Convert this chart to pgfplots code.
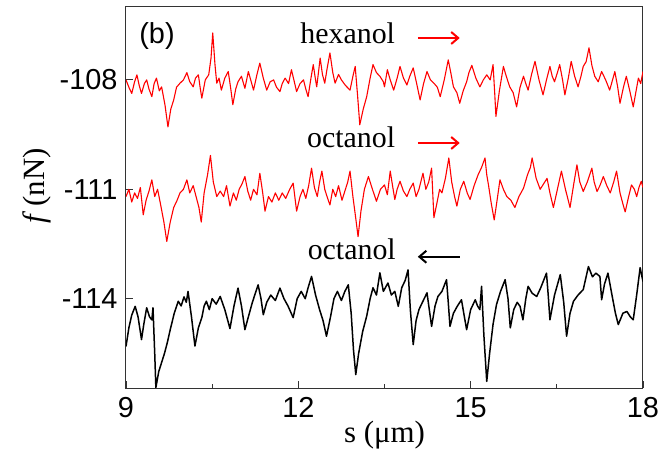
\documentclass[border=0pt]{standalone}
\usepackage{fontspec}
\setmainfont{Liberation Serif}
\newfontfamily\arialf{Liberation Sans}
\usepackage{pgfplots}
\pgfplotsset{compat=1.18}
\usetikzlibrary{arrows.meta}

\pgfplotstableread{
x y
9.00 -108.00
9.05 -108.20
9.10 -108.37
9.15 -108.05
9.19 -107.86
9.23 -108.15
9.27 -108.37
9.32 -108.10
9.36 -108.00
9.40 -108.25
9.45 -108.46
9.49 -108.10
9.53 -107.95
9.58 -108.30
9.62 -108.19
9.68 -108.70
9.73 -109.29
9.78 -108.80
9.83 -108.55
9.88 -108.20
9.94 -108.09
10.00 -108.00
10.06 -107.80
10.11 -108.05
10.17 -108.19
10.21 -107.95
10.26 -107.86
10.29 -108.20
10.32 -108.50
10.38 -108.00
10.44 -107.86
10.48 -107.40
10.51 -106.71
10.55 -107.60
10.58 -108.09
10.62 -107.95
10.66 -108.28
10.72 -107.95
10.78 -107.77
10.82 -108.20
10.86 -108.68
10.91 -108.25
10.95 -108.05
11.01 -107.90
11.07 -108.23
11.10 -108.00
11.13 -107.77
11.18 -108.05
11.22 -108.28
11.28 -107.85
11.33 -107.54
11.39 -107.95
11.45 -108.28
11.51 -108.05
11.57 -108.00
11.62 -108.20
11.68 -108.32
11.72 -108.10
11.77 -107.95
11.83 -108.10
11.88 -107.72
11.93 -108.05
11.97 -108.32
12.03 -108.10
12.09 -108.00
12.13 -108.25
12.17 -108.46
12.22 -107.95
12.26 -107.58
12.29 -107.90
12.32 -108.19
12.35 -107.80
12.38 -107.40
12.42 -107.85
12.46 -108.09
12.50 -107.70
12.55 -107.26
12.60 -107.80
12.64 -108.09
12.70 -107.85
12.75 -108.00
12.82 -108.15
12.90 -108.28
12.95 -107.90
12.99 -107.63
13.03 -108.40
13.07 -109.23
13.13 -108.80
13.19 -108.46
13.25 -107.95
13.30 -107.58
13.36 -107.80
13.42 -107.90
13.48 -108.05
13.50 -108.19
13.55 -107.72
13.60 -108.00
13.66 -108.28
13.72 -107.95
13.77 -107.63
13.83 -107.95
13.89 -108.14
13.94 -107.90
14.00 -107.67
14.06 -108.10
14.12 -108.55
14.18 -108.10
14.24 -107.77
14.30 -108.00
14.36 -108.09
14.42 -108.20
14.47 -108.46
14.54 -108.00
14.61 -107.45
14.66 -107.85
14.70 -108.19
14.76 -108.35
14.81 -108.64
14.87 -108.30
14.93 -108.05
14.97 -107.80
15.02 -107.60
15.09 -107.95
15.16 -108.19
15.22 -108.00
15.28 -107.86
15.34 -108.00
15.39 -107.58
15.42 -108.40
15.44 -109.00
15.50 -108.30
15.57 -107.63
15.62 -107.90
15.68 -108.19
15.74 -108.35
15.80 -108.74
15.86 -108.20
15.92 -107.90
15.96 -108.10
16.00 -108.28
16.06 -107.85
16.12 -107.49
16.19 -108.00
16.26 -108.41
16.32 -108.00
16.38 -107.63
16.42 -107.90
16.46 -108.05
16.51 -107.80
16.55 -107.58
16.60 -108.00
16.64 -108.41
16.70 -107.95
16.75 -107.49
16.81 -107.90
16.87 -108.19
16.92 -107.90
16.96 -107.63
17.01 -107.50
17.06 -107.12
17.11 -107.60
17.16 -107.90
17.22 -108.05
17.28 -107.77
17.35 -108.00
17.42 -108.28
17.47 -108.00
17.51 -107.77
17.56 -108.20
17.60 -108.64
17.66 -108.20
17.71 -107.90
17.77 -108.30
17.83 -108.74
17.88 -108.30
17.92 -107.95
17.96 -108.10
18.00 -107.77
}\hexanol

\pgfplotstableread{
x y
9.00 -111.20
9.05 -111.00
9.10 -111.35
9.15 -111.10
9.20 -111.25
9.25 -110.95
9.30 -111.70
9.35 -111.30
9.40 -111.05
9.45 -110.74
9.50 -111.20
9.55 -111.00
9.60 -111.40
9.66 -111.90
9.71 -112.43
9.77 -111.90
9.83 -111.50
9.89 -111.30
9.94 -111.10
10.00 -111.00
10.06 -110.74
10.11 -111.10
10.17 -110.90
10.22 -111.20
10.27 -111.50
10.31 -111.90
10.36 -111.10
10.42 -110.60
10.47 -110.07
10.52 -110.80
10.58 -111.20
10.64 -111.05
10.70 -111.20
10.75 -110.90
10.81 -111.46
10.87 -111.10
10.92 -111.30
10.97 -111.00
11.02 -110.85
11.07 -110.65
11.12 -111.05
11.17 -111.30
11.22 -111.00
11.28 -111.15
11.33 -110.56
11.38 -111.10
11.42 -111.60
11.48 -111.20
11.54 -111.35
11.60 -111.10
11.66 -111.30
11.72 -111.10
11.78 -111.25
11.85 -111.00
11.91 -110.83
11.97 -111.60
12.03 -111.20
12.08 -111.00
12.13 -111.25
12.18 -110.90
12.23 -110.42
12.28 -110.95
12.33 -111.20
12.37 -110.80
12.41 -110.50
12.46 -111.00
12.50 -111.20
12.55 -111.43
12.60 -111.00
12.65 -111.20
12.70 -110.90
12.76 -111.30
12.82 -111.00
12.86 -110.80
12.90 -110.50
12.95 -111.20
13.00 -111.80
13.04 -112.30
13.09 -111.60
13.15 -111.00
13.22 -110.65
13.29 -111.00
13.36 -111.33
13.43 -111.00
13.50 -110.88
13.55 -111.15
13.60 -110.50
13.64 -110.90
13.68 -111.28
13.72 -111.00
13.77 -110.78
13.83 -111.05
13.89 -111.20
13.94 -111.00
14.00 -110.83
14.05 -111.20
14.10 -111.00
14.17 -110.56
14.22 -111.00
14.27 -110.80
14.32 -110.42
14.36 -111.78
14.41 -111.40
14.46 -111.00
14.50 -111.10
14.56 -110.70
14.62 -110.14
14.67 -110.80
14.72 -111.20
14.76 -111.46
14.82 -111.00
14.88 -110.78
14.94 -111.10
14.99 -111.28
15.06 -110.90
15.13 -110.60
15.19 -110.40
15.25 -110.14
15.28 -110.60
15.31 -110.88
15.36 -111.40
15.41 -111.84
15.46 -111.30
15.51 -110.74
15.57 -111.00
15.63 -111.20
15.70 -111.30
15.77 -111.50
15.84 -111.20
15.92 -110.97
15.99 -110.60
16.04 -110.40
16.07 -110.14
16.14 -110.70
16.21 -111.00
16.27 -110.85
16.33 -110.70
16.38 -111.10
16.44 -111.50
16.51 -111.00
16.58 -110.50
16.65 -111.00
16.73 -111.50
16.79 -110.90
16.85 -110.33
16.90 -110.80
16.96 -111.06
17.03 -110.80
17.11 -110.42
17.15 -110.80
17.20 -111.06
17.25 -110.90
17.31 -110.65
17.37 -110.90
17.43 -111.10
17.49 -110.80
17.54 -110.50
17.60 -111.10
17.65 -111.40
17.69 -111.62
17.75 -111.20
17.80 -110.88
17.85 -111.00
17.89 -111.20
17.93 -110.95
17.97 -110.78
18.00 -110.95
}\octanolfwd

\pgfplotstableread{
x y
9.00 -115.31
9.05 -114.80
9.10 -114.45
9.16 -114.21
9.21 -114.50
9.27 -115.12
9.31 -114.70
9.36 -114.25
9.41 -114.50
9.45 -114.58
9.47 -114.25
9.50 -115.50
9.52 -116.44
9.57 -116.00
9.62 -115.75
9.67 -115.50
9.72 -115.20
9.77 -114.85
9.84 -114.40
9.91 -114.07
9.96 -114.20
10.01 -113.95
10.05 -114.10
10.08 -113.80
10.14 -114.50
10.20 -115.30
10.26 -114.80
10.32 -114.52
10.36 -114.20
10.40 -114.07
10.45 -114.30
10.50 -114.00
10.57 -114.15
10.64 -113.94
10.72 -114.30
10.81 -114.82
10.88 -114.20
10.95 -113.71
11.01 -114.20
11.07 -114.85
11.13 -114.50
11.20 -114.10
11.30 -113.62
11.35 -114.00
11.39 -114.44
11.45 -114.10
11.52 -113.90
11.60 -114.05
11.68 -113.71
11.75 -114.00
11.82 -114.20
11.91 -114.52
11.98 -114.00
12.05 -113.80
12.12 -114.00
12.17 -113.70
12.23 -113.39
12.30 -113.90
12.37 -114.30
12.43 -114.60
12.49 -115.03
12.56 -114.50
12.62 -114.00
12.68 -113.80
12.75 -114.05
12.81 -113.80
12.87 -113.62
12.92 -114.40
12.96 -115.40
13.00 -116.08
13.05 -115.50
13.12 -114.90
13.19 -114.48
13.25 -114.00
13.30 -113.70
13.36 -113.90
13.42 -113.29
13.48 -113.80
13.56 -113.57
13.62 -113.90
13.68 -113.80
13.74 -114.21
13.80 -113.70
13.86 -113.50
13.91 -113.21
13.95 -114.30
14.00 -115.26
14.05 -114.60
14.10 -114.30
14.16 -114.10
14.24 -113.84
14.28 -114.30
14.32 -114.76
14.38 -114.20
14.43 -113.94
14.50 -113.80
14.58 -113.48
14.61 -114.10
14.64 -114.76
14.70 -114.40
14.77 -114.20
14.84 -114.03
14.88 -114.40
14.93 -114.85
15.00 -114.30
15.08 -114.03
15.12 -114.20
15.16 -114.30
15.19 -113.66
15.23 -115.00
15.28 -116.27
15.33 -115.50
15.39 -114.70
15.45 -114.16
15.52 -113.80
15.60 -113.48
15.65 -114.00
15.69 -114.80
15.75 -114.30
15.81 -114.10
15.86 -114.21
15.91 -114.58
15.96 -114.00
16.00 -113.66
16.07 -113.85
16.15 -113.94
16.22 -113.70
16.32 -113.30
16.35 -113.90
16.38 -114.58
16.46 -113.90
16.56 -113.34
16.62 -114.10
16.67 -115.03
16.73 -114.40
16.79 -114.07
16.87 -113.90
16.96 -113.75
17.01 -113.40
17.05 -113.12
17.12 -113.40
17.18 -113.30
17.25 -113.39
17.28 -114.03
17.33 -113.60
17.39 -113.30
17.46 -113.90
17.52 -114.40
17.57 -114.71
17.65 -114.40
17.72 -114.35
17.78 -114.50
17.83 -114.58
17.89 -113.90
17.95 -113.15
18.00 -113.53
}\octanolback

\begin{document}
\begin{tikzpicture}
\path[use as bounding box] (-126bp,-62bp) rectangle (536bp,388bp);
\begin{axis}[
  at={(0,0)}, anchor=south west,
  scale only axis, width=517bp, height=381bp,
  xmin=9, xmax=18, ymin=-116.45, ymax=-106,
  xtick={9,12,15,18}, xticklabels={9,12,15,18},
  minor xtick={10.5,13.5,16.5},
  ytick={-108,-111,-114}, yticklabels={-108,-111,-114},
  tick align=inside, xtick pos=bottom, ytick pos=left,
  major tick length=7bp, minor tick length=4bp,
  tick style={line width=0.9bp, color=black!80},
  axis line style={line width=1bp, color=black!80},
  tick label style={font=\arialf\fontsize{29}{29}\selectfont},
  xticklabel style={yshift=-6bp},
  yticklabel style={xshift=-5bp},
  xlabel={s (μm)}, ylabel={\textit{f}\,(nN)},
  label style={font=\fontsize{31}{31}\selectfont},
  xlabel style={at={(axis description cs:0.5,0)}, anchor=base, yshift=-54bp},
  ylabel style={at={(axis description cs:-0.172,0.53)}, anchor=center},
  clip=true,
]
\addplot[red, line width=1.1bp, line join=round] table {\hexanol};
\addplot[red, line width=1.1bp, line join=round] table {\octanolfwd};
\addplot[black, line width=1.5bp, line join=round] table {\octanolback};
\node[anchor=base, font=\arialf\fontsize{29}{29}\selectfont] at (axis cs:9.54,-107.0) {(b)};
\node[anchor=base, font=\fontsize{30}{30}\selectfont] at (axis cs:12.86,-106.99) {hexanol};
\node[anchor=base, font=\fontsize{30}{30}\selectfont] at (axis cs:12.92,-109.86) {octanol};
\node[anchor=base, font=\fontsize{30}{30}\selectfont] at (axis cs:12.93,-112.93) {octanol};
\draw[red, line width=2bp, -{Straight Barb[length=7bp,width=12bp]}] (axis cs:14.08,-106.85) -- (axis cs:14.81,-106.85);
\draw[red, line width=2bp, -{Straight Barb[length=7bp,width=12bp]}] (axis cs:14.08,-109.73) -- (axis cs:14.81,-109.73);
\draw[black, line width=2bp, -{Straight Barb[length=7bp,width=12bp]}] (axis cs:14.81,-112.85) -- (axis cs:14.08,-112.85);
\end{axis}
\end{tikzpicture}
\end{document}
